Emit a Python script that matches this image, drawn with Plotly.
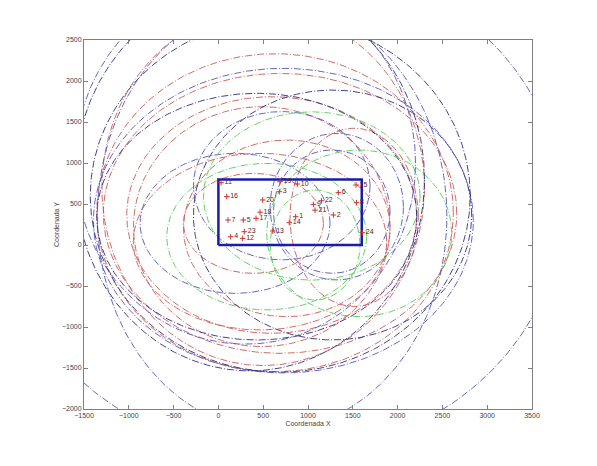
import numpy as np
import plotly.graph_objects as go

# Sensor nodes (label, x, y)
node_labels = ["1", "2", "3", "4", "5", "6", "7", "8", "9", "10", "11", "12",
               "13", "14", "15", "16", "17", "18", "19", "20", "21", "22", "23", "24"]
node_x = [862, 1283, 680, 137, 278, 1338, 107, 1541, 1060, 881, 30, 271,
          606, 791, 1536, 93, 420, 465, 688, 494, 1078, 1150, 289, 1606]
node_y = [345, 366, 650, 101, 305, 638, 305, 516, 495, 744, 760, 81,
          171, 272, 732, 590, 325, 400, 772, 549, 425, 540, 162, 150]

# Ellipses: centre x, centre y, semi-axis x, semi-axis y, colour group
ell_cx = [632, 688, 595, 484, 1515, 763, 465, 391, 500,
          725, 1274, 186, 1321, 707, 428, 1265,
          539, 1572, 1042, 1079,
          700, 690, 300, 350, 600]
ell_cy = [394, 386, 366, 224, 337, 203, 41, 264, 700,
          297, 366, 264, 467, 723, 346, 407,
          102, 142, 598, 0,
          470, 600, 1000, 800, 350]
ell_rx = [1990, 1972, 1618, 1432, 716, 1153, 1414, 781, 1800,
          2120, 1553, 1060, 744, 986, 1786, 651,
          1116, 1033, 1209, 502,
          3130, 2120, 1900, 1950, 1950]
ell_ry = [1939, 1707, 1443, 1463, 1087, 1077, 1077, 610, 2170,
          1858, 1524, 854, 894, 904, 1504, 752,
          894, 1016, 1026, 671,
          3030, 2150, 2209, 2335, 2609]
ell_col = ["r", "r", "r", "r", "r", "r", "r", "r", "r",
           "b", "n", "b", "b", "b", "n", "b",
           "g", "g", "g", "g",
           "b", "n", "b", "n", "b"]

# Region of interest rectangle
rect_x = [0, 1600, 1600, 0, 0]
rect_y = [0, 0, 800, 800, 0]

colors = {"r": "#c85a55", "b": "#5555b8", "n": "#2c2c80", "g": "#55cc55"}

fig = go.Figure()
t = np.linspace(0, 2 * np.pi, 361)
for cx, cy, rx, ry, c in zip(ell_cx, ell_cy, ell_rx, ell_ry, ell_col):
    fig.add_trace(go.Scatter(
        x=cx + rx * np.cos(t), y=cy + ry * np.sin(t), mode="lines",
        line=dict(color=colors[c], width=0.9, dash="7px,2px,1px,2px"),
        hoverinfo="skip", showlegend=False))

fig.add_trace(go.Scatter(x=rect_x, y=rect_y, mode="lines",
                         line=dict(color="#1c1ca8", width=2.5),
                         showlegend=False))

fig.add_trace(go.Scatter(
    x=node_x, y=node_y, mode="markers+text", text=node_labels,
    textposition="middle right",
    textfont=dict(size=7, color="#5a2020", family="Arial"),
    marker=dict(symbol="cross-thin", size=4, line=dict(color="#d03030", width=1)),
    showlegend=False))

axis_common = dict(showgrid=False, zeroline=False, showline=True, mirror="ticks",
                   linecolor="#808080", linewidth=1, ticks="inside", ticklen=4,
                   tickcolor="#808080", automargin=False,
                   tickfont=dict(size=7, color="#444444", family="Arial"))

fig.update_layout(
    width=597, height=466,
    margin=dict(l=76, r=73, t=32, b=65),
    paper_bgcolor="white", plot_bgcolor="white",
    xaxis=dict(range=[-1500, 3500], tickvals=list(range(-1500, 3501, 500)),
               title=dict(text="Coordenada X", font=dict(size=7, color="#444444", family="Arial"), standoff=2),
               **axis_common),
    yaxis=dict(range=[-2000, 2500], tickvals=list(range(-2000, 2501, 500)),
               title=dict(text="Coordenada Y", font=dict(size=7, color="#444444", family="Arial"), standoff=1),
               **axis_common),
)

fig.write_html("out.html")
